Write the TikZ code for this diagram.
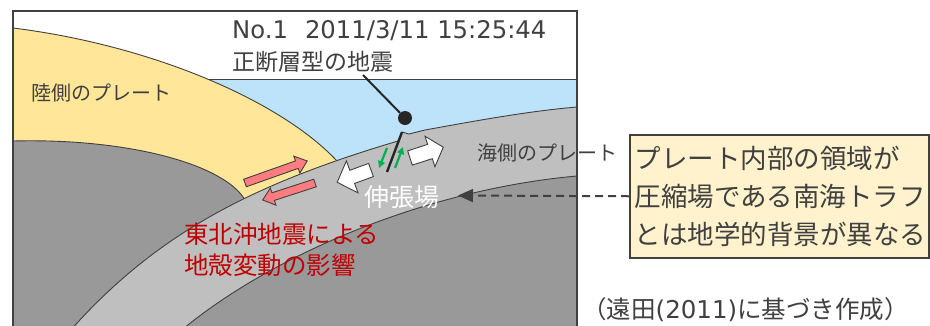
\documentclass[tikz,border=0pt]{standalone}
\usepackage{fontspec}
\newfontfamily\jp{Noto Sans CJK JP}
\newfontfamily\lat{DejaVu Sans}
\usetikzlibrary{arrows.meta}

\definecolor{land}{HTML}{FFE699}
\definecolor{sea}{HTML}{BDE3FA}
\definecolor{slab}{HTML}{BFBFBF}
\definecolor{mantle}{HTML}{999999}
\definecolor{ink}{HTML}{404040}
\definecolor{slip}{HTML}{FF7C80}
\definecolor{quake}{HTML}{C00000}
\definecolor{note}{HTML}{FFF2CC}
\definecolor{shear}{HTML}{00B050}

% block arrow: #1 style, #2 tail centre, #3 angle, #4 length,
% #5 shaft width, #6 head width, #7 head length
\newcommand\blockarrow[7]{%
  \begin{scope}[shift={#2}, rotate=#3]
    \draw[#1] (0,{-#5/2}) -- ({#4-#7},{-#5/2}) -- ({#4-#7},{-#6/2}) -- (#4,0)
      -- ({#4-#7},{#6/2}) -- ({#4-#7},{#5/2}) -- (0,{#5/2}) -- cycle;
  \end{scope}}

\tikzset{
  outline/.style={draw=ink, line width=0.9pt},
  lbl/.style={font=\jp\fontsize{#1}{#1}\selectfont, text=ink, inner sep=0pt},
  redarrow/.style={fill=slip, draw=ink, line width=0.9pt, line join=miter},
  whitearrow/.style={fill=white, draw=ink, line width=0.9pt, line join=miter},
  sheararrow/.style={shear, line width=2.2pt, -{Triangle[length=7pt,width=7pt]}},
}

\begin{document}
\begin{tikzpicture}[x=1pt, y=-1pt]
  \useasboundingbox (0,0) rectangle (930,325);
  \fill[white] (0,0) rectangle (930,325);

  % cross-section inside the frame
  \begin{scope}
    \clip (13,11) rectangle (577,330);
    % sky and sea
    \fill[white] (13,11) rectangle (577,330);
    \fill[sea] (13,79) rectangle (577,330);
    \draw[outline] (13,79) -- (577,79);
    % continental plate
    \fill[land] (13,28) .. controls (150,45) and (280,100) .. (337,161)
      -- (400,340) -- (13,340) -- cycle;
    \draw[outline] (13,28) .. controls (150,45) and (280,100) .. (337,161);
    % mantle under the continental plate
    \fill[mantle] (13,141) .. controls (130,138) and (225,165) .. (245,200)
      -- (300,340) -- (13,340) -- cycle;
    \draw[outline] (13,141) .. controls (130,138) and (225,165) .. (245,200);
    % subducting oceanic plate
    \fill[slab] (62,340) .. controls (152,235) and (250,185) .. (398,141)
      -- (402,132) -- (409,134) -- (425,130)
      .. controls (480,120) and (530,111) .. (577,107)
      -- (577,176) .. controls (420,190) and (260,260) .. (170,340) -- cycle;
    \draw[outline] (62,340) .. controls (152,235) and (250,185) .. (398,141);
    \draw[outline] (402,132) -- (409,134) -- (425,130)
      .. controls (480,120) and (530,111) .. (577,107);
    % mantle under the oceanic plate
    \fill[mantle] (170,340) .. controls (260,260) and (420,190) .. (577,176)
      -- (577,340) -- cycle;
    \draw[outline] (170,340) .. controls (260,260) and (420,190) .. (577,176);
  \end{scope}

  % normal fault and its slip sense
  \draw[line width=2.4pt, black!85] (387,172) -- (402,132);
  \draw[sheararrow] (387,148) -- (379,168);
  \draw[sheararrow] (395,168) -- (403,147);

  % interplate slip of the Tohoku-oki earthquake
  \blockarrow{redarrow}{(245,183)}{19.5}{66}{8}{18}{11}
  \blockarrow{redarrow}{(315,183)}{198}{55}{8}{18}{11}

  % extension in the outer rise
  \blockarrow{whitearrow}{(371,170)}{200}{36}{14}{34}{16}
  \blockarrow{whitearrow}{(410,158)}{18}{35}{15}{32}{14}

  % frame
  \draw[ink, line width=1.2pt] (13,330) -- (13,11) -- (577,11) -- (577,330);

  % texts
  \node[font=\lat\fontsize{24.3}{25}\selectfont, text=ink, inner sep=0pt,
        anchor=west] (title) at (232,31) {No.1\hspace{17pt}2011/3/11 15:25:44};
  \node[lbl=23, anchor=west] (kind) at (232,62) {正断層型の地震};
  \coordinate (leadstart) at (363,75);
  \node[circle, fill=black!85, inner sep=0pt, minimum size=14pt] (epi) at (405,118) {};
  \draw[line width=2pt, black!85] (leadstart) -- (epi);

  \node[lbl=20, anchor=west] (landlabel) at (31,93) {陸側のプレート};
  \node[lbl=20, anchor=west] (sealabel) at (477,153) {海側のプレート};
  \node[lbl=25, anchor=center, text=white] (tension) at (402,197) {伸張場};

  \node[font=\jp\fontsize{24.5}{31}\selectfont, text=quake, align=left,
        anchor=north west, inner sep=0pt] (effect) at (184,223)
        {東北沖地震による\\地殻変動の影響};

  \node[draw=ink, line width=1.5pt, fill=note, anchor=north west,
        minimum width=299pt, minimum height=123pt, inner xsep=5pt,
        text width=289pt, align=left, text=ink,
        font=\jp\fontsize{26.5}{38}\selectfont] (box) at (629,134)
        {プレート内部の領域が\\圧縮場である南海トラフ\\とは地学的背景が異なる};

  \coordinate (target) at (458,195.5);
  \draw[ink, line width=2pt, dash pattern=on 8pt off 5pt,
        -{Triangle[length=15pt,width=13pt]}] (box.west) -- (target);

  \node[lbl=24.5, anchor=west] (source) at (582,310)
        {（遠田{\lat(2011)}に基づき作成）};
\end{tikzpicture}
\end{document}
